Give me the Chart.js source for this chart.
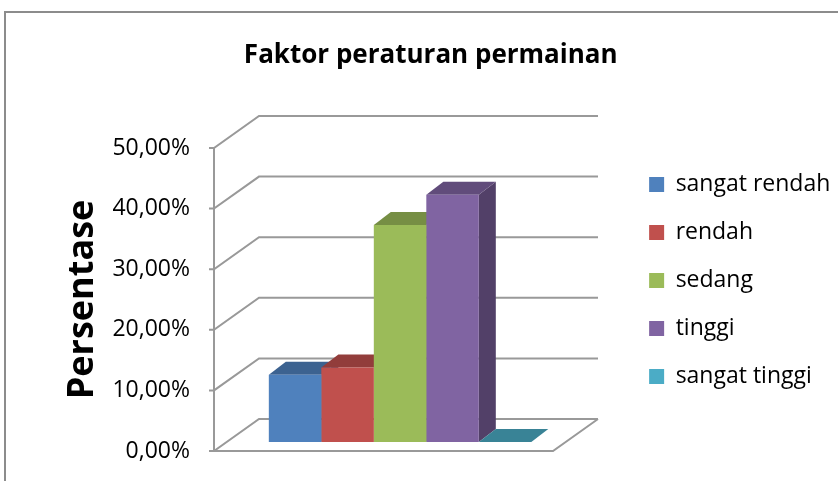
<!DOCTYPE html>
<html>
<head>
<meta charset="utf-8">
<script src="https://cdn.jsdelivr.net/npm/chart.js@4.4.1/dist/chart.umd.min.js"></script>
<style>
  html, body { margin: 0; padding: 0; background: #fff; }
  canvas { display: block; }
</style>
</head>
<body>
<canvas id="chart" width="838" height="481"></canvas>
<script>
const categories = ['sangat rendah', 'rendah', 'sedang', 'tinggi', 'sangat tinggi'];
const values = [0.111, 0.123, 0.358, 0.408, 0];
const yTicks = ['0,00%', '10,00%', '20,00%', '30,00%', '40,00%', '50,00%'];
const colors = ['#4F81BD', '#C0504D', '#9BBB59', '#8064A2', '#4BACC6'];

// darker tone for the top and side faces
function shade(hex, f) {
  const n = parseInt(hex.slice(1), 16);
  const r = Math.round(((n >> 16) & 255) * f);
  const g = Math.round(((n >> 8) & 255) * f);
  const b = Math.round((n & 255) * f);
  return `rgb(${r},${g},${b})`;
}

const depth = { x: 17, y: -13 };     // depth of a bar
const wall = { x: 45, y: -32 };      // depth of the floor / side wall
const barShift = { x: -19, y: -9 };
const floorW = 339;
const lineCol = '#999999';

const box3d = {
  id: 'box3d',
  afterLayout(chart) {
    // a little slack so the widest legend label is not clipped
    chart.legend.right += 20;
  },
  beforeDatasetsDraw(chart) {
    const { ctx, chartArea: a, scales: { y } } = chart;
    ctx.save();
    // outer frame
    ctx.strokeStyle = '#8c8c8c';
    ctx.lineWidth = 2;
    ctx.beginPath();
    ctx.moveTo(5, 481);
    ctx.lineTo(5, 12);
    ctx.lineTo(838, 12);
    ctx.stroke();

    ctx.strokeStyle = lineCol;
    ctx.lineWidth = 2;
    const x0 = a.left;
    const yTop = y.getPixelForValue(y.max);
    const yBot = y.getPixelForValue(y.min);
    ctx.beginPath();
    ctx.moveTo(x0, yTop);
    ctx.lineTo(x0, yBot);
    y.ticks.forEach(t => {
      const py = y.getPixelForValue(t.value);
      ctx.moveTo(x0 - 5, py);
      ctx.lineTo(x0, py);
      ctx.lineTo(x0 + wall.x, py + wall.y);
      ctx.lineTo(x0 + wall.x + floorW, py + wall.y);
    });
    // floor
    ctx.moveTo(x0, yBot);
    ctx.lineTo(x0 + floorW, yBot);
    ctx.lineTo(x0 + floorW + wall.x, yBot + wall.y);
    ctx.stroke();
    ctx.restore();

    ctx.save();
    ctx.translate(barShift.x, barShift.y);
    chart.data.datasets.forEach((ds, i) => {
      const bar = chart.getDatasetMeta(i).data[0];
      const l = bar.x - bar.width / 2;
      const r = bar.x + bar.width / 2;
      const top = bar.y;
      const bottom = bar.base;
      // side
      ctx.fillStyle = shade(colors[i], 0.64);
      ctx.beginPath();
      ctx.moveTo(r, top);
      ctx.lineTo(r + depth.x, top + depth.y);
      ctx.lineTo(r + depth.x, bottom + depth.y);
      ctx.lineTo(r, bottom);
      ctx.closePath();
      ctx.fill();
      // top
      ctx.fillStyle = shade(colors[i], 0.76);
      ctx.beginPath();
      ctx.moveTo(l, top);
      ctx.lineTo(r, top);
      ctx.lineTo(r + depth.x, top + depth.y);
      ctx.lineTo(l + depth.x, top + depth.y);
      ctx.closePath();
      ctx.fill();
    });
  },
  afterDatasetsDraw(chart) {
    chart.ctx.restore();
  }
};

new Chart(document.getElementById('chart'), {
  type: 'bar',
  data: {
    labels: [''],
    datasets: categories.map((c, i) => ({
      label: c,
      data: [values[i]],
      backgroundColor: colors[i],
      borderWidth: 0
    }))
  },
  options: {
    responsive: false,
    animation: false,
    clip: false,
    categoryPercentage: 0.64,
    barPercentage: 1,
    layout: { padding: { left: 44, right: 20.5, top: 0, bottom: 30 } },
    plugins: {
      title: {
        display: true,
        text: 'Faktor peraturan permainan',
        color: '#000',
        font: { family: 'Open Sans', size: 26, weight: 'bold' },
        padding: { top: 40, bottom: 76.8 }
      },
      legend: {
        position: 'right',
        align: 'start',
        fullSize: false,
        labels: {
          boxWidth: 15,
          boxHeight: 15,
          padding: 25,
          color: '#000',
          font: { family: 'Open Sans', size: 23 }
        }
      },
      tooltip: { enabled: false }
    },
    scales: {
      x: { display: false },
      y: {
        min: 0,
        max: 0.5,
        grid: { display: false, drawTicks: false },
        border: { display: false },
        ticks: {
          stepSize: 0.1,
          padding: 24,
          color: '#000',
          font: { family: 'Open Sans', size: 23 },
          callback: (v, i) => yTicks[i]
        },
        title: {
          display: true,
          text: 'Persentase',
          color: '#000',
          font: { family: 'Open Sans', size: 36, weight: 'bold' },
          padding: { top: 17, bottom: 0 }
        },
        afterFit(scale) {
          scale.width = 170;
          scale.paddingTop = 0;
          scale.paddingBottom = 0;
        }
      }
    }
  },
  plugins: [box3d]
});
</script>
</body>
</html>
